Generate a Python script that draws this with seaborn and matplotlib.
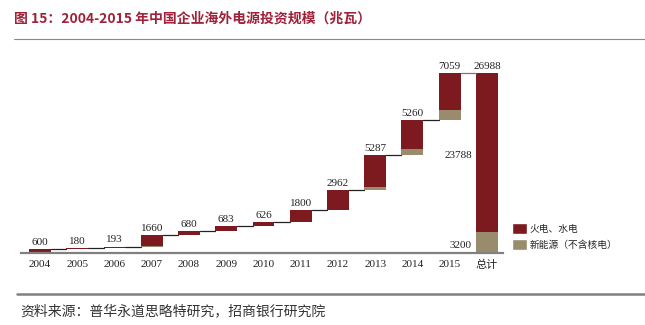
import numpy as np
import pandas as pd
import matplotlib
matplotlib.use("Agg")
import matplotlib.pyplot as plt
import seaborn as sns
from matplotlib.patches import Patch
from matplotlib.lines import Line2D

# ---- data ----
years = ["2004", "2005", "2006", "2007", "2008", "2009", "2010", "2011",
         "2012", "2013", "2014", "2015"]
total_label = "总计"
increments = [600, 180, 193, 1660, 680, 683, 626, 1800, 2962, 5287, 5260, 7059]
new_energy = [20, 10, 10, 40, 30, 40, 40, 60, 80, 450, 970, 1450]
total_value = 26988
total_conventional = 23788
total_new = 3200
legend_labels = ["火电、水电", "新能源（不含核电）"]
title = "图 15：2004-2015 年中国企业海外电源投资规模（兆瓦）"
source = "资料来源：普华永道思略特研究，招商银行研究院"

RED = "#7D1A20"
TAN = "#988C6C"

sns.set_style("white")
plt.rcParams["font.family"] = ["Noto Sans CJK SC", "DejaVu Sans"]
SERIF = ["Liberation Serif", "Noto Sans CJK SC"]

cum_end = np.cumsum(increments)
cum_start = cum_end - np.array(increments)
categories = years + [total_label]
top = list(cum_end) + [total_value]
tan_top = list(cum_start + np.array(new_energy)) + [total_new]
base = list(cum_start) + [0]

df = pd.DataFrame({"cat": categories, "top": top, "tan_top": tan_top, "base": base})

fig = plt.figure(figsize=(6.45, 3.25), dpi=100)
ax = fig.add_axes([21 / 645, 72 / 325, 482 / 645, 200 / 325])
W = 0.59
common = dict(data=df, x="cat", order=categories, width=W, saturation=1,
              errorbar=None, linewidth=0, ax=ax)
sns.barplot(y="top", color=RED, **common)
sns.barplot(y="tan_top", color=TAN, **common)
sns.barplot(y="base", color="white", **common)

# connectors
for i in range(len(years)):
    ax.plot([i + W / 2, i + 1 - W / 2], [top[i], top[i]],
            color="#222222" if i < 11 else "#777777", lw=0.9, zorder=1)

# value labels
for i, v in enumerate(increments):
    ax.annotate(f"{v}", (i, top[i]), xytext=(0, 1.5), textcoords="offset points",
                ha="center", va="bottom", fontsize=8, family=SERIF, color="#222222")
n = len(years)
ax.annotate(f"{total_value}", (n, total_value), xytext=(0, 1.5), textcoords="offset points",
            ha="center", va="bottom", fontsize=8, family=SERIF, color="#222222")
ax.annotate(f"{total_conventional}", (n - W / 2, total_new + total_conventional / 2),
            xytext=(-3, -2), textcoords="offset points", ha="right", va="center",
            fontsize=8, family=SERIF, color="#222222")
ax.annotate(f"{total_new}", (n - W / 2, total_new / 2),
            xytext=(-3, -2.5), textcoords="offset points", ha="right", va="center",
            fontsize=8, family=SERIF, color="#222222")

ax.set_xlim(-0.51, 12.43)
ax.set_ylim(0, 30000)
ax.set_xlabel("")
ax.set_ylabel("")
ax.set_yticks([])
for s in ["left", "right", "top"]:
    ax.spines[s].set_visible(False)
ax.spines["bottom"].set_color("#808080")
ax.spines["bottom"].set_linewidth(1.6)
ax.tick_params(axis="x", length=0, pad=5)
for lab in ax.get_xticklabels():
    lab.set_family(SERIF)
    lab.set_fontsize(8)
    lab.set_color("#222222")

# title, rules, source
fig.text(14 / 645, 1 - 19 / 325, title, fontsize=10, fontweight="bold",
         color="#A0223A", ha="left", va="center")
fig.add_artist(Line2D([14 / 645, 1], [1 - 38.5 / 325] * 2, color="#8a8a8a", lw=0.8))
fig.add_artist(Line2D([17 / 645, 1], [1 - 294 / 325] * 2, color="#808080", lw=1.8))
fig.text(20 / 645, 1 - 311 / 325, source, fontsize=10, color="#333333",
         ha="left", va="center")

fig.legend(handles=[Patch(facecolor=RED, label=legend_labels[0]),
                    Patch(facecolor=TAN, label=legend_labels[1])],
           loc="upper left", bbox_to_anchor=(512 / 645, 1 - 223 / 325),
           frameon=False, fontsize=7, handlelength=1.55, handleheight=1.35,
           handletextpad=0.25, labelspacing=0.55, borderpad=0, borderaxespad=0)

fig.savefig("out.png", dpi=100)
